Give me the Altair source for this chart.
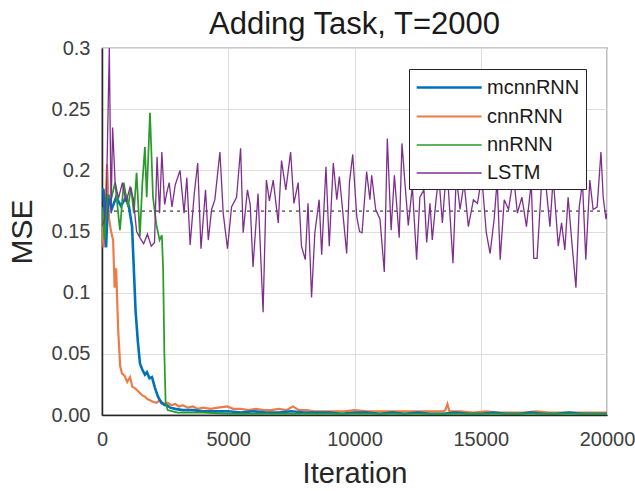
import altair as alt
import pandas as pd

# ---------------- data ----------------
series_order = ["mcnnRNN", "cnnRNN", "nnRNN", "LSTM"]
series_colors = ["#0072BD", "#EE7A45", "#2A9A2A", "#7E2F8E"]
series_widths = [2.6, 1.3, 1.3, 1.4]

mcnn_iter = [0, 60, 160, 250, 380, 560, 750, 950, 1070, 1190, 1280, 1330, 1420, 1505, 1600,
             1700, 1782, 1880, 1980, 2100, 2218, 2350, 2500, 2574, 2700, 2900, 3200, 3600,
             4000, 4500, 5000, 5500, 6000, 6500, 7000, 7500, 8000, 8500, 9000, 9500, 10000,
             10500, 11000, 11500, 12000, 12500, 13000, 13500, 14000, 14500, 15000, 15500,
             16000, 16500, 17000, 17500, 18000, 18500, 19000, 19500, 20000]
mcnn_mse = [0.185, 0.184, 0.137, 0.180, 0.168, 0.178, 0.171, 0.178, 0.170, 0.154, 0.110, 0.085,
            0.060, 0.042, 0.037, 0.033, 0.035, 0.030, 0.031, 0.022, 0.015, 0.010, 0.008, 0.008,
            0.006, 0.005, 0.004, 0.004, 0.003, 0.003, 0.003, 0.002, 0.003, 0.002, 0.002, 0.003,
            0.002, 0.002, 0.002, 0.001, 0.002, 0.002, 0.001, 0.002, 0.001, 0.002, 0.001, 0.001,
            0.002, 0.001, 0.001, 0.002, 0.001, 0.001, 0.002, 0.001, 0.001, 0.002, 0.001, 0.001,
            0.001]

cnn_iter = [0, 60, 100, 200, 280, 360, 440, 500, 560, 640, 720, 790, 900, 1000, 1110, 1200,
            1300, 1400, 1500, 1600, 1700, 1800, 1900, 2000, 2150, 2300, 2450, 2600, 2750, 2900,
            3050, 3200, 3400, 3600, 3800, 4000, 4300, 4600, 4950, 5200, 5500, 5800, 6100, 6400,
            6700, 7000, 7300, 7560, 7800, 8100, 8400, 8800, 9200, 9600, 10000, 10500, 11000,
            11500, 12000, 12500, 13000, 13500, 13600, 13680, 13760, 14200, 14700, 15200, 15700,
            16200, 16700, 17200, 17700, 18200, 18700, 19200, 19700, 20000]
cnn_mse = [0.160, 0.137, 0.150, 0.205, 0.160, 0.150, 0.143, 0.104, 0.120, 0.070, 0.040, 0.034,
           0.032, 0.027, 0.031, 0.023, 0.022, 0.020, 0.018, 0.016, 0.015, 0.013, 0.012, 0.011,
           0.010, 0.012, 0.009, 0.010, 0.008, 0.009, 0.007, 0.008, 0.006, 0.007, 0.005, 0.006,
           0.005, 0.006, 0.007, 0.005, 0.005, 0.004, 0.005, 0.004, 0.004, 0.005, 0.004, 0.007,
           0.004, 0.004, 0.003, 0.003, 0.003, 0.003, 0.004, 0.003, 0.003, 0.003, 0.003, 0.003,
           0.003, 0.003, 0.004, 0.009, 0.003, 0.003, 0.002, 0.003, 0.002, 0.002, 0.002, 0.003,
           0.002, 0.002, 0.002, 0.002, 0.002, 0.002]

nn_iter = [0, 100, 200, 360, 520, 710, 860, 1030, 1150, 1260, 1370, 1500, 1600, 1700, 1770,
           1900, 2020, 2150, 2280, 2370, 2420, 2470, 2520, 2600, 2800, 3000, 4000, 5000, 6000,
           7000, 8000, 9000, 10000, 11000, 12000, 13000, 14000, 15000, 16000, 17000, 18000,
           19000, 20000]
nn_mse = [0.170, 0.143, 0.180, 0.176, 0.190, 0.151, 0.190, 0.170, 0.186, 0.165, 0.198, 0.146,
          0.190, 0.219, 0.178, 0.247, 0.178, 0.156, 0.143, 0.147, 0.120, 0.050, 0.010, 0.004,
          0.003, 0.002, 0.002, 0.001, 0.001, 0.001, 0.001, 0.001, 0.001, 0.001, 0.001, 0.001,
          0.001, 0.001, 0.001, 0.001, 0.001, 0.001, 0.001]

lstm_iter = [0, 100, 180, 290, 360, 420, 520, 650, 810, 950, 1110, 1240, 1370, 1500, 1650,
             1800, 1950, 2080, 2180, 2280, 2370, 2480, 2560, 2660, 2770, 2900, 3090, 3250, 3360,
             3490, 3650, 3790, 3920, 4100, 4210, 4340, 4470, 4670, 4800, 4970, 5130, 5330, 5490,
             5590, 5760, 5870, 5980, 6180, 6380, 6510, 6630, 6780, 6980, 7110, 7280, 7470, 7600,
             7770, 7900, 8050, 8160, 8300, 8430, 8600, 8700, 8870, 9000, 9160, 9300, 9400, 9490,
             9690, 9800, 9930, 10090, 10200, 10300, 10480, 10610, 10680, 10840, 11010, 11180,
             11300, 11450, 11580, 11770, 11880, 12000, 12130, 12290, 12460, 12590, 12750, 12860,
             12990, 13080, 13230, 13340, 13480, 13600, 13720, 13900, 14030, 14180, 14340, 14510,
             14710, 14870, 15040, 15220, 15370, 15530, 15650, 15770, 15930, 16100, 16300, 16450,
             16630, 16810, 17000, 17100, 17230, 17410, 17600, 17740, 17870, 18070, 18200, 18330,
             18460, 18600, 18770, 18900, 19030, 19160, 19320, 19450, 19610, 19760, 19850, 19960,
             20000]
lstm_mse = [0.155, 0.160, 0.184, 0.300, 0.165, 0.235, 0.190, 0.177, 0.190, 0.174, 0.186, 0.177,
            0.150, 0.145, 0.140, 0.148, 0.138, 0.141, 0.211, 0.165, 0.215, 0.172, 0.181, 0.190,
            0.170, 0.188, 0.200, 0.165, 0.194, 0.139, 0.180, 0.206, 0.136, 0.184, 0.143, 0.168,
            0.176, 0.215, 0.165, 0.136, 0.170, 0.178, 0.218, 0.149, 0.184, 0.172, 0.121, 0.181,
            0.084, 0.192, 0.175, 0.192, 0.157, 0.208, 0.184, 0.215, 0.173, 0.190, 0.138, 0.127,
            0.173, 0.096, 0.149, 0.176, 0.131, 0.203, 0.138, 0.206, 0.176, 0.195, 0.176, 0.132,
            0.190, 0.213, 0.162, 0.150, 0.149, 0.199, 0.176, 0.196, 0.168, 0.160, 0.117, 0.226,
            0.151, 0.196, 0.145, 0.222, 0.189, 0.155, 0.187, 0.127, 0.178, 0.184, 0.141, 0.173,
            0.143, 0.176, 0.195, 0.157, 0.190, 0.184, 0.124, 0.195, 0.168, 0.190, 0.154, 0.176,
            0.173, 0.195, 0.149, 0.132, 0.160, 0.192, 0.127, 0.176, 0.168, 0.195, 0.165, 0.178,
            0.154, 0.190, 0.128, 0.128, 0.190, 0.184, 0.154, 0.194, 0.138, 0.157, 0.135, 0.178,
            0.143, 0.104, 0.170, 0.190, 0.127, 0.192, 0.168, 0.170, 0.215, 0.178, 0.160, 0.165]

baseline_mse = [1 / 6]
x_ticks = [0, 5000, 10000, 15000, 20000]
y_ticks = [0, 0.05, 0.1, 0.15, 0.2, 0.25, 0.3]

# ---------------- build table ----------------
frames = []
for name, its, vals in [("cnnRNN", cnn_iter, cnn_mse), ("mcnnRNN", mcnn_iter, mcnn_mse),
                        ("nnRNN", nn_iter, nn_mse), ("LSTM", lstm_iter, lstm_mse)]:
    frames.append(pd.DataFrame({"Iteration": its, "MSE": vals, "model": name}))
df = pd.concat(frames, ignore_index=True)
df["idx"] = range(len(df))

FONT = "Liberation Sans"

x_enc = alt.X("Iteration:Q",
              scale=alt.Scale(domain=[0, 20000], nice=False),
              axis=alt.Axis(values=x_ticks, format="d", title="Iteration",
                            labelFontSize=20, labelColor="#404040", labelPadding=14,
                            labelFlush=False, labelOverlap=False,
                            titleFontSize=29, titleColor="#262626", titleFontWeight="normal",
                            titlePadding=10, grid=True, gridColor="#dedede", tickSize=0,
                            domainColor="#262626", domainWidth=1.5))
y_enc = alt.Y("MSE:Q",
              scale=alt.Scale(domain=[0, 0.3], nice=False),
              axis=alt.Axis(values=y_ticks, format=".2~f",
                            labelExpr="datum.value == 0 ? '0.00' : datum.label",
                            labelFlush=False, labelOverlap=False,
                            title="MSE", labelFontSize=20, labelColor="#404040",
                            labelPadding=12, titleFontSize=30, titleColor="#262626",
                            titleFontWeight="normal", titlePadding=14, grid=True,
                            gridColor="#dedede", tickSize=0, domainColor="#262626",
                            domainWidth=1.5))

lines = alt.Chart(df).mark_line(clip=True).encode(
    x=x_enc,
    y=y_enc,
    order=alt.Order("idx:Q"),
    color=alt.Color("model:N",
                    scale=alt.Scale(domain=series_order, range=series_colors),
                    legend=alt.Legend(title=None, orient="none", legendX=307, legendY=21,
                                      symbolType="M-1,0H5", symbolSize=470,
                                      labelFontSize=20, labelColor="#1a1a1a", labelFont=FONT,
                                      strokeColor="#262626", fillColor="white",
                                      padding=6, rowPadding=6.5, labelOffset=47,
                                      symbolStrokeWidth=1.5)),
    strokeWidth=alt.StrokeWidth("model:N",
                                scale=alt.Scale(domain=series_order, range=series_widths),
                                legend=None),
)

base_df = pd.DataFrame({"MSE": baseline_mse})
baseline = alt.Chart(base_df).mark_rule(color="#777777", strokeDash=[3, 4],
                                        strokeWidth=1.6).encode(y="MSE:Q")

chart = alt.layer(baseline, lines).properties(
    width=505, height=367,
    title=alt.Title("Adding Task, T=2000", fontSize=31, font=FONT, fontWeight="normal",
                    color="#1a1a1a", offset=8, dy=11),
    autosize=alt.AutoSizeParams(type="none"),
    padding={"left": 102, "top": 48, "right": 28, "bottom": 76},
).configure(font=FONT).configure_axis(
    labelFont=FONT, titleFont=FONT
).configure_view(stroke="#262626", strokeWidth=1.2)

chart.save("out.html", embed_options={"renderer": "svg", "actions": False})
